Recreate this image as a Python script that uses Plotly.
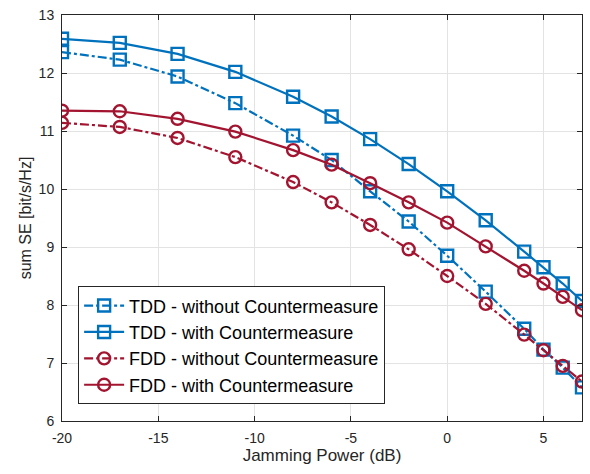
import plotly.graph_objects as go

x = [-20, -17, -14, -11, -8, -6, -4, -2, 0, 2, 4, 5, 6, 7]
tdd_without = [12.36, 12.23, 11.94, 11.48, 10.92, 10.50, 9.96, 9.44, 8.85, 8.23, 7.59, 7.23, 6.92, 6.58]
tdd_with = [12.59, 12.52, 12.33, 12.02, 11.59, 11.25, 10.86, 10.43, 9.96, 9.46, 8.92, 8.65, 8.37, 8.07]
fdd_without = [11.14, 11.07, 10.88, 10.55, 10.12, 9.77, 9.38, 8.96, 8.50, 8.02, 7.49, 7.22, 6.95, 6.68]
fdd_with = [11.35, 11.34, 11.21, 10.99, 10.67, 10.42, 10.10, 9.77, 9.42, 9.01, 8.59, 8.37, 8.14, 7.91]

x_ticks = [-20, -15, -10, -5, 0, 5]
x_ticktext = ["-20", "-15", "-10", "-5", "0", "5"]
y_ticks = [6, 7, 8, 9, 10, 11, 12, 13]

names = ["TDD - without Countermeasure", "TDD - with Countermeasure",
         "FDD - without Countermeasure", "FDD - with Countermeasure"]
blue = "#0072BD"
red = "#A2142F"

series = [
    (tdd_without, blue, "dashdot", "square-open"),
    (tdd_with, blue, "solid", "square-open"),
    (fdd_without, red, "dashdot", "circle-open"),
    (fdd_with, red, "solid", "circle-open"),
]

fig = go.Figure()
for (y, c, dash, sym), n in zip(series, names):
    fig.add_trace(go.Scatter(
        x=x, y=y, name=n, mode="lines+markers",
        line=dict(color=c, width=2.2, dash=dash),
        marker=dict(symbol=sym, size=12, color=c, line=dict(width=2.4, color=c)),
    ))

axis_common = dict(
    showgrid=True, gridcolor="#e3e3e3", gridwidth=1,
    showline=True, linecolor="#262626", linewidth=1, mirror="ticks",
    ticks="inside", ticklen=5, tickcolor="#262626",
    zeroline=False,
    tickfont=dict(size=14, color="#262626"),
)

fig.update_layout(
    width=590, height=474,
    margin=dict(l=62, r=7, t=10, b=53),
    paper_bgcolor="white", plot_bgcolor="white",
    font=dict(family="Liberation Sans, Arial, sans-serif", color="#262626"),
    xaxis=dict(range=[-20, 7], tickvals=x_ticks, ticktext=x_ticktext,
               ticklabelstandoff=4,
               title=dict(text="Jamming Power (dB)", font=dict(size=17), standoff=3),
               **axis_common),
    yaxis=dict(range=[6, 13], tickvals=y_ticks, ticktext=[str(v) for v in y_ticks],
               ticklabelstandoff=4,
               title=dict(text="sum SE [bit/s/Hz]", font=dict(size=16), standoff=3),
               **axis_common),
    legend=dict(x=0.031, y=0.041, xanchor="left", yanchor="bottom",
                bgcolor="white", bordercolor="#262626", borderwidth=1,
                font=dict(size=18, color="black"), tracegroupgap=0,
                itemwidth=40),
    showlegend=True,
)

fig.write_html("out.html")
